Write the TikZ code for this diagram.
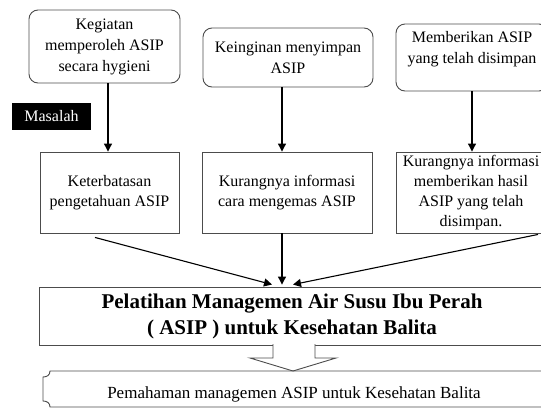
\documentclass[tikz,border=0pt]{standalone}
\usepackage{fontspec}
\setmainfont{Liberation Serif}
\usetikzlibrary{arrows.meta}

\begin{document}
\begin{tikzpicture}[x=1pt,y=-1pt,
	topbox/.style={draw=black!70, line width=0.9pt, rounded corners=9pt, align=center, inner sep=0pt, font=\fontsize{16}{21}\selectfont},
	midbox/.style={draw=black!70, line width=0.9pt, align=center, inner sep=0pt, font=\fontsize{16}{20}\selectfont},
	arr/.style={-{Triangle[length=8pt,width=8pt]}, line width=1.1pt}]
	\useasboundingbox (0,0) rectangle (541,410);
	
	\node[topbox, minimum width=151pt, minimum height=73pt] (kegiatan) at (104.5,46.5) {Kegiatan\\memperoleh ASIP\\secara hygieni};
	\node[topbox, minimum width=170pt, minimum height=59pt] (keinginan) at (288,57.5) {Keinginan menyimpan\\ASIP};
	\node[topbox, minimum width=152pt, minimum height=67pt] (memberikan) at (472,57.5) {Memberikan ASIP\\yang telah disimpan\\~};
	
	\node[fill=black, text=white, minimum width=79pt, minimum height=27pt, inner sep=0pt, font=\fontsize{16}{20}\selectfont] (masalah) at (51.5,116.5) {Masalah};
	
	\node[midbox, minimum width=139pt, minimum height=81pt] (pengetahuan) at (109.5,192.5) {Keterbatasan\\pengetahuan ASIP};
	\node[midbox, minimum width=170pt, minimum height=81pt] (mengemas) at (287,192.5) {Kurangnya informasi\\cara mengemas ASIP};
	\node[midbox, minimum width=150pt, minimum height=81pt] (hasil) at (471,192.5) {Kurangnya informasi\\memberikan hasil\\ASIP yang telah\\disimpan.};
	
	\draw[arr] ([xshift=3.5pt]kegiatan.south) -- ([xshift=3.5pt]kegiatan.south |- pengetahuan.north);
	\draw[arr] ([xshift=-6pt]keinginan.south) -- ([xshift=-6pt]keinginan.south |- mengemas.north);
	\draw[arr] (memberikan.south) -- (memberikan.south |- hasil.north);
	
	\node[draw=black!70, line width=0.9pt, minimum width=505pt, minimum height=58pt, inner sep=0pt, align=center, font=\fontsize{21}{26}\selectfont\bfseries] (pelatihan) at (292,316) {Pelatihan Managemen Air Susu Ibu Perah\\( ASIP ) untuk Kesehatan Balita};
	
	\draw[arr] ([xshift=-14.5pt,yshift=-4pt]pengetahuan.south) -- ([xshift=-20pt,yshift=2pt]pelatihan.north);
	\draw[arr] ([xshift=-5pt]mengemas.south) -- ([xshift=-10pt,yshift=2pt]pelatihan.north);
	\draw[arr] ([xshift=67pt,yshift=-1pt]hasil.south) -- ([xshift=1pt,yshift=2pt]pelatihan.north);
	
	% panah ke hasil
	\draw[draw=black!70, line width=0.9pt, fill=white] (273,344) -- (273,358) -- (250,358) -- (293,371) -- (336,358) -- (315,358) -- (315,344);
	
	\draw[draw=black!70, line width=0.9pt] (550,371) -- (50,371) .. controls (50,375) and (47,377) .. (43,377) -- (43,401) .. controls (47,401) and (50,403) .. (50,407) -- (550,407);
	\node[anchor=base, inner sep=0pt, font=\fontsize{17}{20}\selectfont] (pemahaman) at (294,398) {Pemahaman managemen ASIP untuk Kesehatan Balita};
\end{tikzpicture}
\end{document}
